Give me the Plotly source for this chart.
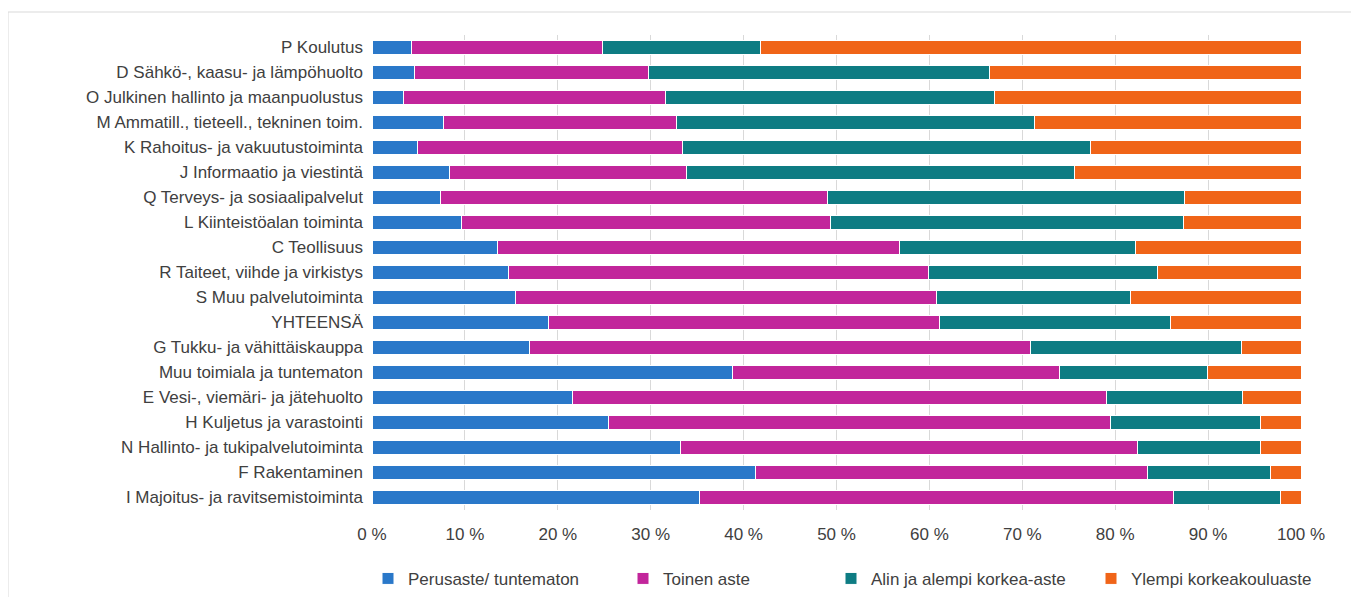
import plotly.graph_objects as go

categories = [
    "P Koulutus",
    "D Sähkö-, kaasu- ja lämpöhuolto",
    "O Julkinen hallinto ja maanpuolustus",
    "M Ammatill., tieteell., tekninen toim.",
    "K Rahoitus- ja vakuutustoiminta",
    "J Informaatio ja viestintä",
    "Q Terveys- ja sosiaalipalvelut",
    "L Kiinteistöalan toiminta",
    "C Teollisuus",
    "R Taiteet, viihde ja virkistys",
    "S Muu palvelutoiminta",
    "YHTEENSÄ",
    "G Tukku- ja vähittäiskauppa",
    "Muu toimiala ja tuntematon",
    "E Vesi-, viemäri- ja jätehuolto",
    "H Kuljetus ja varastointi",
    "N Hallinto- ja tukipalvelutoiminta",
    "F Rakentaminen",
    "I Majoitus- ja ravitsemistoiminta",
]

perusaste = [4.2, 4.6, 3.4, 7.7, 4.9, 8.3, 7.4, 9.6, 13.5, 14.7, 15.4, 19.0, 16.9, 38.8, 21.6, 25.5, 33.2, 41.3, 35.2]
toinen = [20.6, 25.2, 28.2, 25.1, 28.5, 25.5, 41.6, 39.7, 43.3, 45.2, 45.4, 42.1, 54.0, 35.2, 57.5, 54.0, 49.2, 42.2, 51.1]
alin = [17.0, 36.7, 35.4, 38.5, 43.9, 41.8, 38.5, 38.0, 25.4, 24.7, 20.9, 24.9, 22.7, 15.9, 14.6, 16.1, 13.2, 13.2, 11.5]
ylempi = [58.2, 33.5, 33.0, 28.7, 22.7, 24.4, 12.5, 12.7, 17.8, 15.4, 18.3, 14.0, 6.4, 10.1, 6.3, 4.4, 4.4, 3.3, 2.2]

series_names = ["Perusaste/ tuntematon", "Toinen aste", "Alin ja alempi korkea-aste", "Ylempi korkeakouluaste"]
series_values = [perusaste, toinen, alin, ylempi]
colors = ["#2a78c9", "#c2259b", "#0e7c83", "#f06418"]

tick_vals = [0, 10, 20, 30, 40, 50, 60, 70, 80, 90, 100]
tick_text = [f"{v} %" for v in tick_vals]

FONT = "Liberation Sans, Arial, sans-serif"
TXT = "#404040"
FS = 17

W, H = 1351, 589
ML, MR, MT, MB = 364, 58, 27, 87
PW, PH = W - ML - MR, H - MT - MB

# legend entry positions (paper fraction of plot width)
legend_x = [-4 / PW, 251 / PW, 459 / PW, 719 / PW]
legend_ids = ["legend", "legend2", "legend3", "legend4"]

fig = go.Figure()
for name, vals, col, lid in zip(series_names, series_values, colors, legend_ids):
    fig.add_trace(go.Bar(
        y=categories, x=vals, name=name, orientation="h", legend=lid, showlegend=True,
        marker=dict(color=col, line=dict(color="white", width=1)),
    ))

legend_common = dict(orientation="h", xanchor="left", y=-0.145, yanchor="middle",
                     bgcolor="rgba(0,0,0,0)", font=dict(family=FONT, size=FS, color=TXT))

fig.update_layout(
    width=W, height=H,
    showlegend=True,
    barmode="stack", bargap=0.42,
    paper_bgcolor="white", plot_bgcolor="white",
    margin=dict(l=ML, r=MR, t=MT, b=MB, autoexpand=False),
    font=dict(family=FONT, size=FS, color=TXT),
    legend=dict(x=legend_x[0], **legend_common),
    legend2=dict(x=legend_x[1], **legend_common),
    legend3=dict(x=legend_x[2], **legend_common),
    legend4=dict(x=legend_x[3], **legend_common),
    xaxis=dict(range=[0, 100], tickvals=tick_vals, ticktext=tick_text, showgrid=True,
               gridcolor="#d9d9d9", gridwidth=1, zeroline=False, showline=False,
               ticks="", ticklabelstandoff=12, tickfont=dict(size=FS, color=TXT)),
    yaxis=dict(autorange="reversed", categoryorder="array", categoryarray=categories,
               showgrid=False, ticks="", ticklabelstandoff=8, tickfont=dict(size=FS, color=TXT)),
    shapes=[dict(type="rect", xref="paper", yref="paper",
                 x0=(0 - ML) / PW, x1=(1349 - ML) / PW,
                 y0=-(MB + 20) / PH, y1=(PH + MT - 4) / PH,
                 line=dict(color="#d9d9d9", width=1), fillcolor="rgba(0,0,0,0)", layer="below")],
)

fig.write_html("out.html")
